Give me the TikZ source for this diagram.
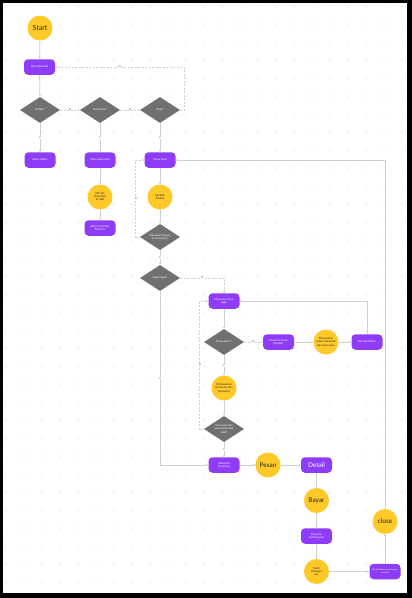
\documentclass[tikz,border=0pt]{standalone}
\usepackage{fontspec}
\setmainfont{Lato}
\usetikzlibrary{shapes.geometric,arrows.meta}
\definecolor{pur}{HTML}{8E3CF7}
\definecolor{yel}{HTML}{FFC928}
\definecolor{dgr}{HTML}{707070}
\definecolor{lnc}{HTML}{CFCFCF}
\definecolor{dotc}{HTML}{B5B5B5}
\definecolor{lbc}{HTML}{555555}
\newcommand\tnf{\fontsize{2.7}{3.2}\selectfont}
\newcommand\ttnf{\fontsize{2.1}{2.6}\selectfont}
\newcommand\bgf{\fontsize{6.5}{7.5}\selectfont}
\begin{document}
\begin{tikzpicture}[x=1pt,y=-1pt,
  rbox/.style={fill=pur,draw=none,rounded corners=4pt,minimum width=31pt,minimum height=15.5pt,inner sep=0pt,align=center,text=white,font=\tnf},
  circ/.style={circle,fill=yel,draw=none,minimum size=25pt,inner sep=0pt,align=center,text=black!85,font=\tnf},
  dia/.style={diamond,fill=dgr,draw=none,minimum width=40pt,minimum height=26pt,inner sep=0pt,aspect=1.5,align=center,text=white,font=\tnf},
  conn/.style={draw=lnc,line width=0.8pt,-{Stealth[length=2.2pt,width=2.2pt]}},
  dconn/.style={conn,dash pattern=on 2pt off 1.5pt},
  lab/.style={font=\tnf,text=lbc,fill=white,inner sep=0.4pt}]
\useasboundingbox (0,0) rectangle (412,598);
\fill[black] (0,0) rectangle (412,598);
\fill[white] (3,3) rectangle (407,593);
\foreach \i in {0,...,22}{\foreach \j in {0,...,32}{\fill[dotc] (6+18*\i,6+18*\j) circle (0.5);}}
% nodes
\node[circ,font=\fontsize{7}{8}\selectfont] (start) at (40,28) {Start};
\node[rbox] (mb) at (39.5,67) {Menu Beranda};
\node[dia] (art) at (40,110) {Artikel?};
\node[dia] (kons) at (100,110) {Konsultasi?};
\node[dia] (shop) at (160,110) {Shop?};
\node[rbox] (mart) at (40,160) {Menu artikel};
\node[rbox] (mkons) at (100,160) {Menu konsultasi};
\node[rbox] (mshop) at (160,160) {Menu Shop};
\node[circ] (klik) at (100,197) {Klik link\\konsultasi\\by WA};
\node[rbox] (room) at (100,228) {Room Chat WA\\Business};
\node[circ] (pilih) at (160,197) {Memilih\\Produk};
\node[dia] (dk) at (160,237) {Masukkan barang\\ke keranjang?};
\node[dia] (dl) at (160,278) {Sudah login?};
\node[rbox] (mlogin) at (224,301) {Masuk ke menu\\login};
\node[dia] (dp) at (224,342) {Punya akun ?};
\node[rbox] (mreg) at (278.5,342) {Masuk ke menu\\Register};
\node[circ] (email) at (326,342) {Memasukan\\Email, Password\\dan Username};
\node[rbox] (bd) at (367,342) {Berhasil Daftar};
\node[circ] (user) at (224,388) {Memasukkan\\Username dan\\Password};
\node[dia] (dv) at (224,429) {Username dan\\password sudah\\valid?};
\node[rbox] (mker) at (224,465) {Masuk ke\\Keranjang};
\node[circ,font=\bgf] (pesan) at (268,465) {Pesan};
\node[rbox,font=\bgf] (detail) at (316.5,465) {Detail};
\node[circ,font=\bgf] (bayar) at (316.5,500.5) {Bayar};
\node[rbox] (mbayar) at (316.5,536) {Masuk ke\\Pembayaran};
\node[circ] (bukti) at (316.5,571.5) {Bukti\\Pembaya\\ran};
\node[rbox,font=\ttnf] (selesai) at (385,571.5) {Menyelesaikan pembayaran\\pesanan};
\node[circ,font=\bgf] (close) at (385,521.5) {close};
% connectors
\draw[conn] (start) -- (mb);
\draw[conn] (mb) -- (art);
\draw[dconn] (art) -- node[lab]{N} (kons);
\draw[dconn] (kons) -- node[lab]{N} (shop);
\draw[dconn] (shop.east) -- ++(4,0) |- node[lab,pos=0.75]{N} (mb.east);
\draw[conn] (art) -- node[lab]{Y} (mart);
\draw[conn] (kons) -- node[lab]{Y} (mkons);
\draw[conn] (shop) -- node[lab]{Y} (mshop);
\draw[conn] (mkons) -- (klik);
\draw[conn] (klik) -- (room);
\draw[conn] (mshop) -- (pilih);
\draw[conn] (pilih) -- (dk);
\draw[dconn] (dk.west) -- ++(-4,0) |- node[lab,pos=0.25]{N} (mshop.west);
\draw[conn] (dk) -- node[lab]{Y} (dl);
\draw[dconn] (dl.east) -| node[lab,pos=0.25]{N} (mlogin.north);
\draw[conn] (dl.south) |- node[lab,pos=0.25]{Y} (mker.west);
\draw[conn] (mlogin) -- (dp);
\draw[dconn] (dp) -- node[lab]{N} (mreg);
\draw[conn] (mreg) -- (email);
\draw[conn] (email) -- (bd);
\draw[conn] (bd.north) |- (mlogin.east);
\draw[conn] (dp) -- node[lab]{Y} (user);
\draw[conn] (user) -- (dv);
\draw[dconn] (dv.west) -- ++(-4,0) |- node[lab,pos=0.25]{N} (mlogin.west);
\draw[conn] (dv) -- node[lab]{Y} (mker);
\draw[conn] (mker) -- (pesan);
\draw[conn] (pesan) -- (detail);
\draw[conn] (detail) -- (bayar);
\draw[conn] (bayar) -- (mbayar);
\draw[conn] (mbayar) -- (bukti);
\draw[conn] (bukti) -- (selesai);
\draw[conn] (selesai) -- (close);
\draw[conn] (close.north) |- (mshop.east);
\end{tikzpicture}
\end{document}
